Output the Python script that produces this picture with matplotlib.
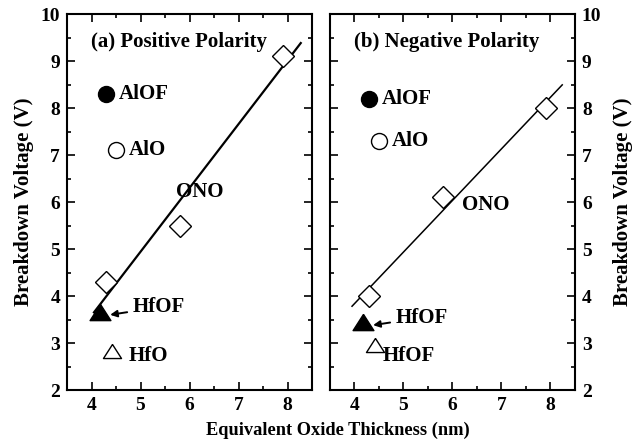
import matplotlib
matplotlib.use("Agg")
import matplotlib.pyplot as plt
import numpy as np

plt.rcParams['font.family'] = ['Liberation Serif', 'DejaVu Serif']
plt.rcParams['font.weight'] = 'bold'

# ONO reference points (diamonds)
ono_x = [4.3, 5.8, 7.9]
ono_pos = [4.3, 5.5, 9.1]
ono_neg = [4.0, 6.1, 8.0]

# single samples: x (EOT), breakdown voltage in each polarity
alof_x, alof_pos, alof_neg = 4.3, 8.3, 8.2
alo_x, alo_pos, alo_neg = 4.5, 7.1, 7.3
hfof_x, hfof_pos, hfof_neg = 4.18, 3.67, 3.45
hfo_x, hfo_pos, hfo_neg = 4.42, 2.84, 2.95

fit_pos_range = [4.05, 8.27]
fit_neg_range = [3.95, 8.24]

# slightly squat triangle, closed path
tri = [(0, 0.78), (-1, -0.78), (1, -0.78), (0, 0.78)]
fs = 15

fig = plt.figure(figsize=(6.39, 4.42), dpi=100)
ax1 = fig.add_axes([0.1049, 0.1176, 0.3834, 0.8507])
ax2 = fig.add_axes([0.5164, 0.1176, 0.3834, 0.8507])


def draw_panel(ax, volts, fit_range, lw, title, hfo_label, hfo_off):
    ono_v, alof_v, alo_v, hfof_v, hfo_v = volts
    k, b = np.polyfit(ono_x, ono_v, 1)
    xs = np.array(fit_range)
    ax.plot(xs, k * xs + b, color='black', lw=lw, zorder=2)
    ax.plot(ono_x, ono_v, 'D', ms=11.5, mfc='white', mec='black', mew=1.0, zorder=3)
    ax.plot(alof_x, alof_v, 'o', ms=11.5, mfc='black', mec='black', zorder=3)
    ax.plot(alo_x, alo_v, 'o', ms=11.5, mfc='white', mec='black', mew=1.0, zorder=3)
    ax.plot(hfof_x, hfof_v, marker=tri, ms=15, mfc='black', mec='black', ls='none', zorder=3)
    ax.plot(hfo_x, hfo_v, marker=tri, ms=13, mfc='white', mec='black', mew=1.0, ls='none', zorder=3)

    ax.text(0.098, 0.926, title, transform=ax.transAxes,
            fontsize=fs, fontweight='bold', va='center', ha='left')
    ax.text(alof_x + 0.26, alof_v, 'AlOF', fontsize=fs, fontweight='bold', va='center')
    ax.text(alo_x + 0.26, alo_v, 'AlO', fontsize=fs, fontweight='bold', va='center')
    ax.annotate('HfOF', xy=(hfof_x + 0.2, hfof_v - 0.07), xytext=(hfof_x + 0.66, hfof_v + 0.09),
                fontsize=fs, fontweight='bold', va='center', ha='left',
                arrowprops=dict(arrowstyle='-|>', color='black', lw=1.4,
                                mutation_scale=10, shrinkA=2, shrinkB=0))
    ax.text(hfo_x + hfo_off[0], hfo_v + hfo_off[1], hfo_label, fontsize=fs,
            fontweight='bold', va='center', ha='left')

    ax.set_xlim(3.5, 8.5)
    ax.set_ylim(2, 10)
    ax.set_xticks([4, 5, 6, 7, 8])
    ax.set_xticks(np.arange(3.5, 8.6, 0.5), minor=True)
    ax.set_yticks(range(2, 11))
    ax.set_yticks(np.arange(2, 10.1, 0.5), minor=True)
    ax.tick_params(which='both', direction='in', top=True, bottom=True, left=True, right=True,
                   labelsize=14, width=1.2)
    ax.tick_params(which='major', length=6, pad=5)
    ax.tick_params(which='minor', length=3)
    for sp in ax.spines.values():
        sp.set_linewidth(1.5)


draw_panel(ax1, (ono_pos, alof_pos, alo_pos, hfof_pos, hfo_pos), fit_pos_range, 1.6,
           '(a) Positive Polarity', 'HfO', (0.33, -0.12))
draw_panel(ax2, (ono_neg, alof_neg, alo_neg, hfof_neg, hfo_neg), fit_neg_range, 1.1,
           '(b) Negative Polarity', 'HfOF', (0.16, -0.22))

ax1.text(5.73, 6.22, 'ONO', fontsize=fs, fontweight='bold', va='center')
ax2.text(6.2, 5.94, 'ONO', fontsize=fs, fontweight='bold', va='center')

ax1.tick_params(labelleft=True, labelright=False)
ax2.tick_params(labelleft=False, labelright=True)

ax1.set_ylabel('Breakdown Voltage (V)', fontsize=fs, fontweight='bold', labelpad=5)
ax2.yaxis.set_label_position('right')
ax2.set_ylabel('Breakdown Voltage (V)', fontsize=fs, fontweight='bold', rotation=90, labelpad=8)
fig.text(0.529, 0.027, 'Equivalent Oxide Thickness (nm)', fontsize=13.2, fontweight='bold',
         ha='center', va='center')

fig.savefig('out.png', dpi=100)
